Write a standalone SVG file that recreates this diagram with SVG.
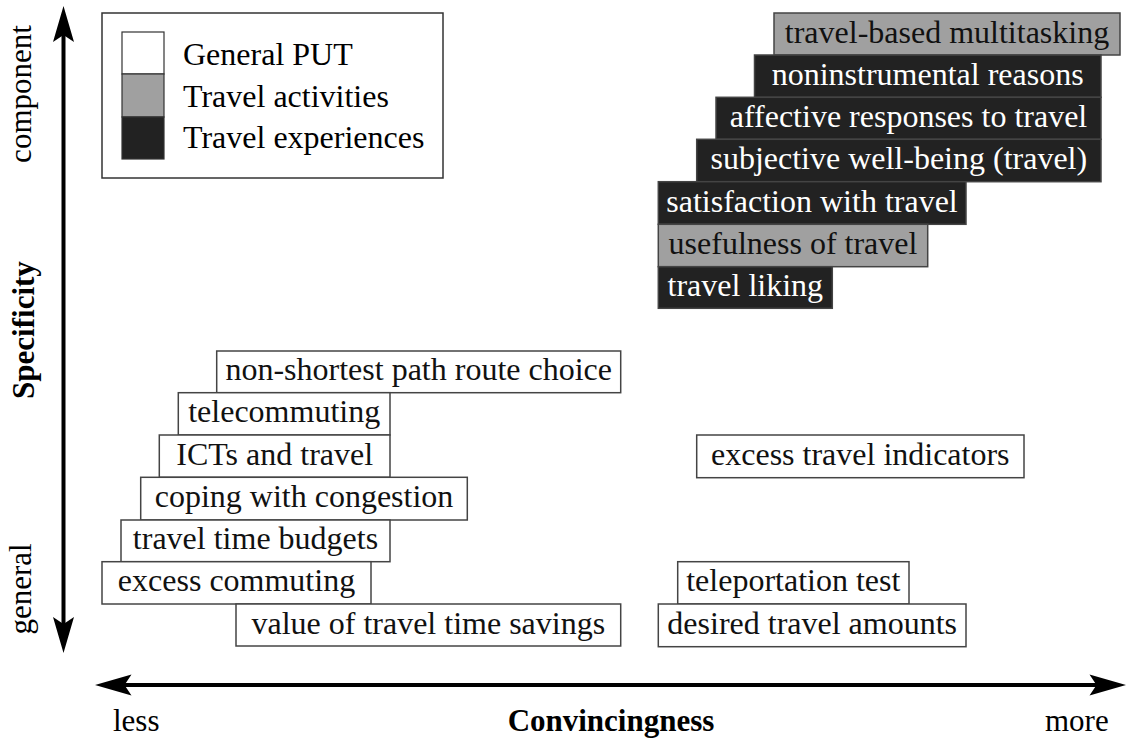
<svg xmlns="http://www.w3.org/2000/svg" width="1128" height="738" viewBox="0 0 1128 738">
<style>
text{font-family:"Liberation Serif","Times New Roman",serif;font-size:31px;}
.lbl{text-anchor:middle;font-size:32px;}
.leg{font-size:32px;}
.w rect{fill:#fff;stroke:#444;stroke-width:1.5;}
.g rect{fill:#a0a0a0;stroke:#444;stroke-width:1.5;}
.d rect{fill:#222;stroke:#444;stroke-width:1.5;}
.w text,.g text{fill:#111;}
.d text{fill:#fff;}
.ax{stroke:#000;stroke-width:4;fill:none;}
.ah{fill:#000;}
.b{font-weight:bold;}
</style>
<rect width="1128" height="738" fill="#fff"/>
<g id="axes">
  <line class="ax" x1="63.5" y1="30" x2="63.5" y2="628"/>
  <polygon class="ah" points="63.5,6 74,42 63.5,35 53,42"/>
  <polygon class="ah" points="63.5,653 74,617 63.5,624 53,617"/>
  <line class="ax" x1="120" y1="685" x2="1100" y2="685"/>
  <polygon class="ah" points="95,685 131.5,674.5 124.5,685 131.5,695.5"/>
  <polygon class="ah" points="1126,685 1089.5,674.5 1096.5,685 1089.5,695.5"/>
</g>
<g id="axis-labels">
  <text transform="translate(31,94) rotate(-90)" text-anchor="middle">component</text>
  <text class="b" transform="translate(34,330) rotate(-90)" text-anchor="middle">Specificity</text>
  <text transform="translate(31,589) rotate(-90)" text-anchor="middle">general</text>
  <text x="113" y="731">less</text>
  <text class="b" x="611" y="731" text-anchor="middle">Convincingness</text>
  <text x="1045" y="731">more</text>
</g>
<g id="legend">
  <rect x="102" y="13" width="341" height="165" fill="#fff" stroke="#333" stroke-width="1.5"/>
  <rect x="122" y="32" width="42" height="42" fill="#fff" stroke="#333" stroke-width="1.2"/>
  <rect x="122" y="74" width="42" height="43" fill="#a0a0a0" stroke="#333" stroke-width="1.2"/>
  <rect x="122" y="117" width="42" height="42" fill="#222" stroke="#333" stroke-width="1.2"/>
  <text class="leg" x="183" y="65">General PUT</text>
  <text class="leg" x="183" y="107">Travel activities</text>
  <text class="leg" x="183" y="148">Travel experiences</text>
</g>
<g id="n-multitasking" class="g"><rect x="774" y="13" width="346" height="42"/><text class="lbl" x="947" y="42.5">travel-based multitasking</text></g>
<g id="n-noninstrumental" class="d"><rect x="754.5" y="55" width="346.5" height="42.3"/><text class="lbl" x="927.7" y="85">noninstrumental reasons</text></g>
<g id="n-affective" class="d"><rect x="716" y="97.3" width="385" height="42"/><text class="lbl" x="908.5" y="127">affective responses to travel</text></g>
<g id="n-swb" class="d"><rect x="696.7" y="139.3" width="404.3" height="42.4"/><text class="lbl" x="898.8" y="169">subjective well-being (travel)</text></g>
<g id="n-satisfaction" class="d"><rect x="658.3" y="181.7" width="307.7" height="42.6"/><text class="lbl" x="812" y="211.5">satisfaction with travel</text></g>
<g id="n-usefulness" class="g"><rect x="658.3" y="224.3" width="269.4" height="42.4"/><text class="lbl" x="793" y="254">usefulness of travel</text></g>
<g id="n-liking" class="d"><rect x="658.3" y="266.7" width="174" height="41.6"/><text class="lbl" x="745.3" y="296">travel liking</text></g>

<g id="n-nonshortest" class="w"><rect x="216.7" y="351" width="404" height="41.7"/><text class="lbl" x="418.7" y="380">non-shortest path route choice</text></g>
<g id="n-telecommuting" class="w"><rect x="178.3" y="392.7" width="211.7" height="42.3"/><text class="lbl" x="284.2" y="422">telecommuting</text></g>
<g id="n-icts" class="w"><rect x="159.3" y="435" width="230.7" height="42.3"/><text class="lbl" x="274.7" y="464.5">ICTs and travel</text></g>
<g id="n-coping" class="w"><rect x="140.7" y="477.3" width="326.6" height="42.7"/><text class="lbl" x="304" y="507">coping with congestion</text></g>
<g id="n-ttb" class="w"><rect x="121" y="520" width="269" height="41.7"/><text class="lbl" x="255.5" y="549">travel time budgets</text></g>
<g id="n-excesscommuting" class="w"><rect x="102" y="561.7" width="269" height="42.3"/><text class="lbl" x="236.5" y="591">excess commuting</text></g>
<g id="n-vtts" class="w"><rect x="236" y="604" width="384.7" height="42"/><text class="lbl" x="428.3" y="633.5">value of travel time savings</text></g>

<g id="n-excesstravel" class="w"><rect x="696.7" y="435" width="327.3" height="42.7"/><text class="lbl" x="860.3" y="465">excess travel indicators</text></g>
<g id="n-teleportation" class="w"><rect x="677.7" y="561.7" width="231.3" height="42.3"/><text class="lbl" x="793.3" y="591">teleportation test</text></g>
<g id="n-desired" class="w"><rect x="658.3" y="604" width="307.7" height="42.7"/><text class="lbl" x="812.2" y="633.5">desired travel amounts</text></g>
</svg>
